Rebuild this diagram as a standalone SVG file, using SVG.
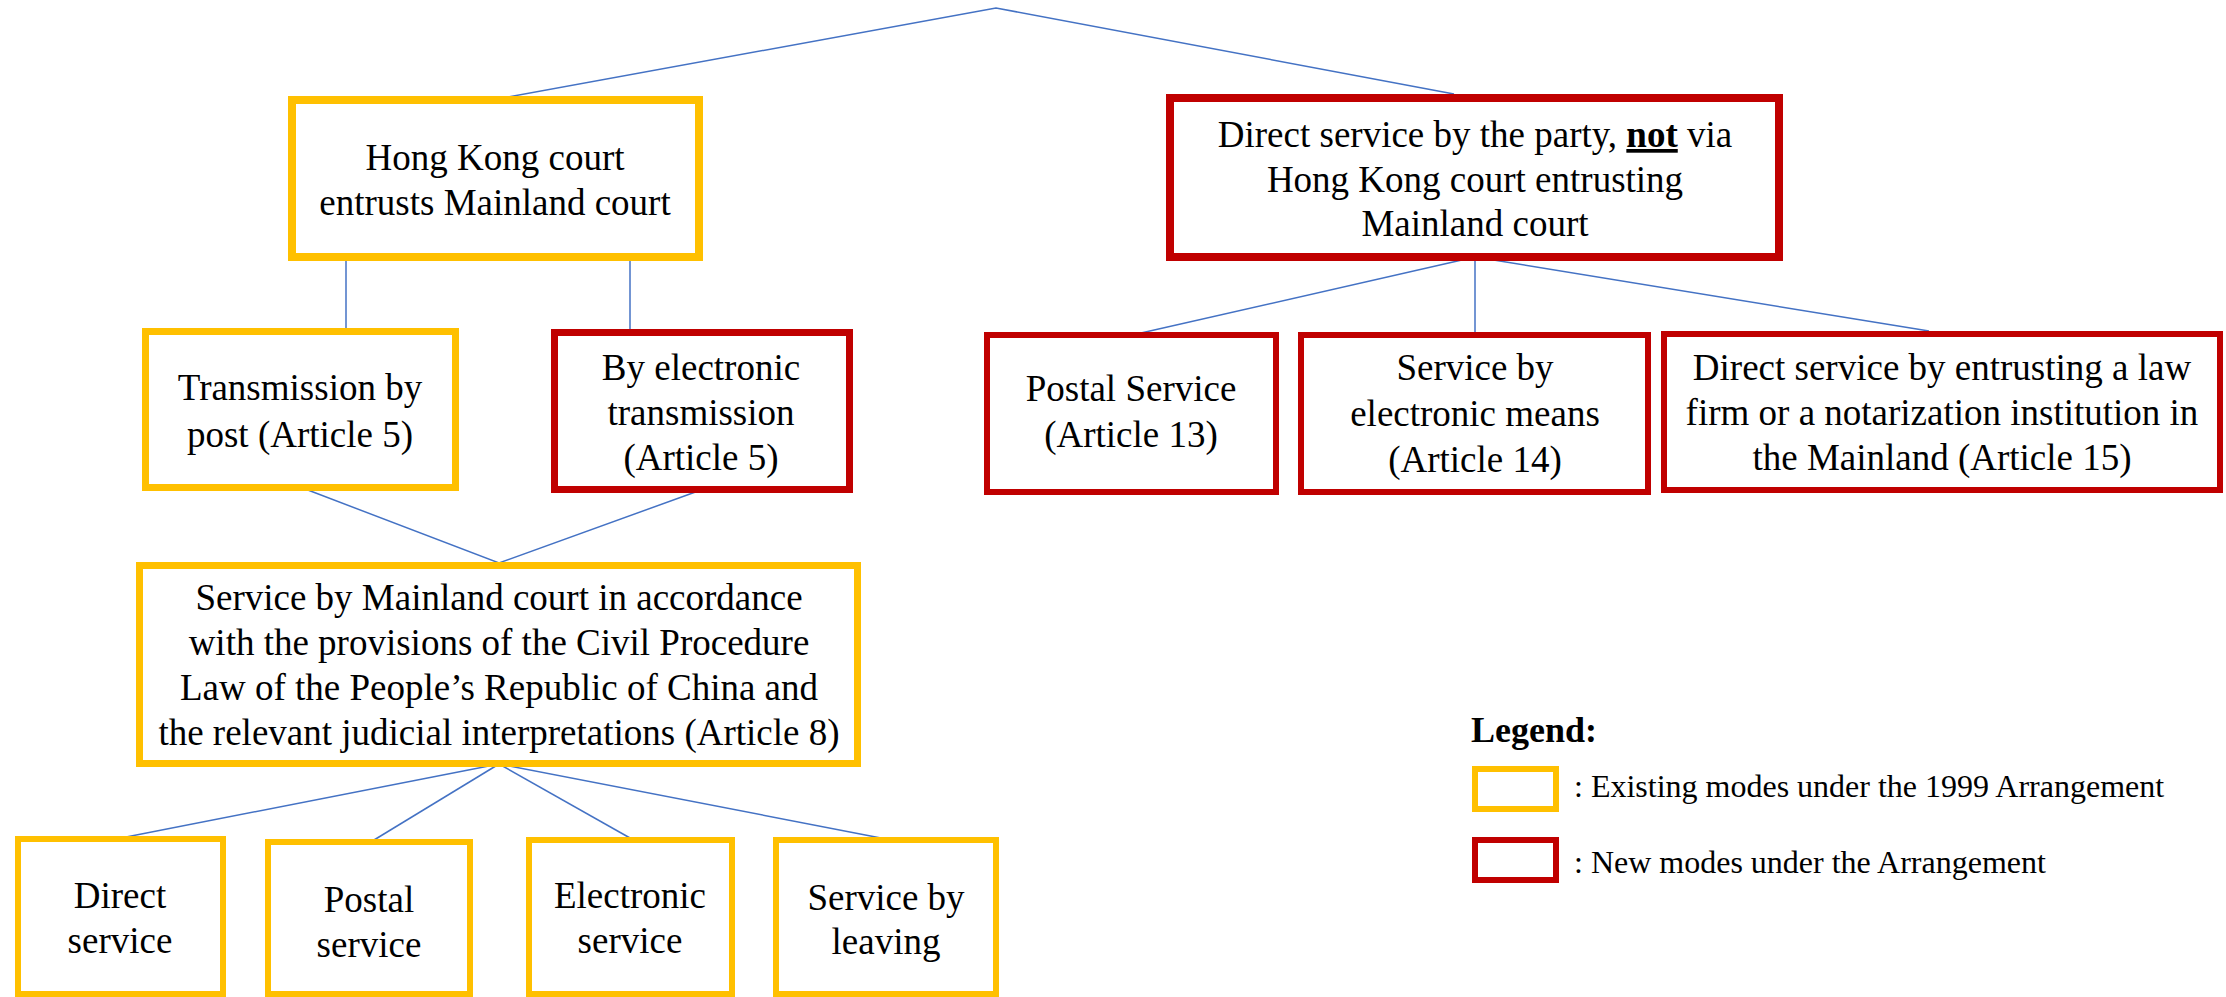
<svg xmlns="http://www.w3.org/2000/svg" width="2226" height="997" viewBox="0 0 2226 997">
<style>
.ybox{fill:#fff;stroke:#FFC000;stroke-width:7}
.rbox{fill:#fff;stroke:#C00000;stroke-width:7}
.sw6{stroke-width:6}
.sw8{stroke-width:8}
text{font-family:"Liberation Serif","Times New Roman",serif;fill:#000}
.nodeLabel{font-size:37px;text-anchor:middle}
.legendLabel{font-size:32px}
.legendTitle{font-size:36px;font-weight:bold}
.conn{stroke:#4472C4;stroke-width:1.5;fill:none}
</style>
<rect width="2226" height="997" fill="#fff"/>
<g id="connectors" class="conn">
<polyline points="497,99 996,8 1454,94"/>
<line x1="346" y1="257" x2="346" y2="332"/>
<line x1="630" y1="261" x2="630" y2="333"/>
<polyline points="300,487 499,563 701,490"/>
<line x1="499" y1="764" x2="121" y2="838"/>
<line x1="499" y1="764" x2="374" y2="840"/>
<line x1="499" y1="764" x2="630" y2="838"/>
<line x1="499" y1="764" x2="886" y2="839"/>
<line x1="1475" y1="257" x2="1141" y2="333"/>
<line x1="1475" y1="257" x2="1475" y2="333"/>
<line x1="1475" y1="257" x2="1929" y2="331"/>
</g>
<g id="hk-court">
<rect class="ybox sw8" x="292" y="100" width="407" height="157"/>
<text class="nodeLabel" x="495" y="170">Hong Kong court</text>
<text class="nodeLabel" x="495" y="215">entrusts Mainland court</text>
</g>
<g id="direct-party">
<rect class="rbox sw8" x="1170" y="98" width="609" height="159"/>
<text class="nodeLabel" x="1475" y="147">Direct service by the party, <tspan font-weight="bold" text-decoration="underline">not</tspan> via</text>
<text class="nodeLabel" x="1475" y="192">Hong Kong court entrusting</text>
<text class="nodeLabel" x="1475" y="236">Mainland court</text>
</g>
<g id="transmission-post">
<rect class="ybox" x="145.5" y="331.5" width="310" height="156"/>
<text class="nodeLabel" x="300" y="400">Transmission by</text>
<text class="nodeLabel" x="300" y="447">post (Article 5)</text>
</g>
<g id="electronic-transmission">
<rect class="rbox" x="554.5" y="332.5" width="295" height="157"/>
<text class="nodeLabel" x="701" y="380">By electronic</text>
<text class="nodeLabel" x="701" y="425">transmission</text>
<text class="nodeLabel" x="701" y="470">(Article 5)</text>
</g>
<g id="postal-13">
<rect class="rbox sw6" x="987" y="335" width="289" height="157"/>
<text class="nodeLabel" x="1131" y="401">Postal Service</text>
<text class="nodeLabel" x="1131" y="447">(Article 13)</text>
</g>
<g id="electronic-14">
<rect class="rbox sw6" x="1301" y="335" width="347" height="157"/>
<text class="nodeLabel" x="1475" y="380">Service by</text>
<text class="nodeLabel" x="1475" y="426">electronic means</text>
<text class="nodeLabel" x="1475" y="472">(Article 14)</text>
</g>
<g id="lawfirm-15">
<rect class="rbox sw6" x="1664" y="334" width="556" height="156"/>
<text class="nodeLabel" x="1942" y="380">Direct service by entrusting a law</text>
<text class="nodeLabel" x="1942" y="425">firm or a notarization institution in</text>
<text class="nodeLabel" x="1942" y="470">the Mainland (Article 15)</text>
</g>
<g id="mainland-service">
<rect class="ybox" x="139.5" y="565.5" width="718" height="198"/>
<text class="nodeLabel" x="499" y="610">Service by Mainland court in accordance</text>
<text class="nodeLabel" x="499" y="655">with the provisions of the Civil Procedure</text>
<text class="nodeLabel" x="499" y="700">Law of the People’s Republic of China and</text>
<text class="nodeLabel" x="499" y="745">the relevant judicial interpretations (Article 8)</text>
</g>
<g id="direct-service">
<rect class="ybox sw6" x="18" y="839" width="205" height="155"/>
<text class="nodeLabel" x="120" y="908">Direct</text>
<text class="nodeLabel" x="120" y="953">service</text>
</g>
<g id="postal-service">
<rect class="ybox sw6" x="268" y="842" width="202" height="152"/>
<text class="nodeLabel" x="369" y="912">Postal</text>
<text class="nodeLabel" x="369" y="957">service</text>
</g>
<g id="electronic-service">
<rect class="ybox sw6" x="529" y="840" width="203" height="154"/>
<text class="nodeLabel" x="630" y="908">Electronic</text>
<text class="nodeLabel" x="630" y="953">service</text>
</g>
<g id="service-leaving">
<rect class="ybox sw6" x="776" y="840" width="220" height="154"/>
<text class="nodeLabel" x="886" y="910">Service by</text>
<text class="nodeLabel" x="886" y="954">leaving</text>
</g>
<g id="legend">
<text class="legendTitle" x="1471" y="742">Legend:</text>
<rect class="ybox sw6" x="1475" y="769" width="81" height="40"/>
<text class="legendLabel" x="1574" y="797">: Existing modes under the 1999 Arrangement</text>
<rect class="rbox sw6" x="1475" y="840" width="81" height="40"/>
<text class="legendLabel" x="1574" y="873">: New modes under the Arrangement</text>
</g>
</svg>
